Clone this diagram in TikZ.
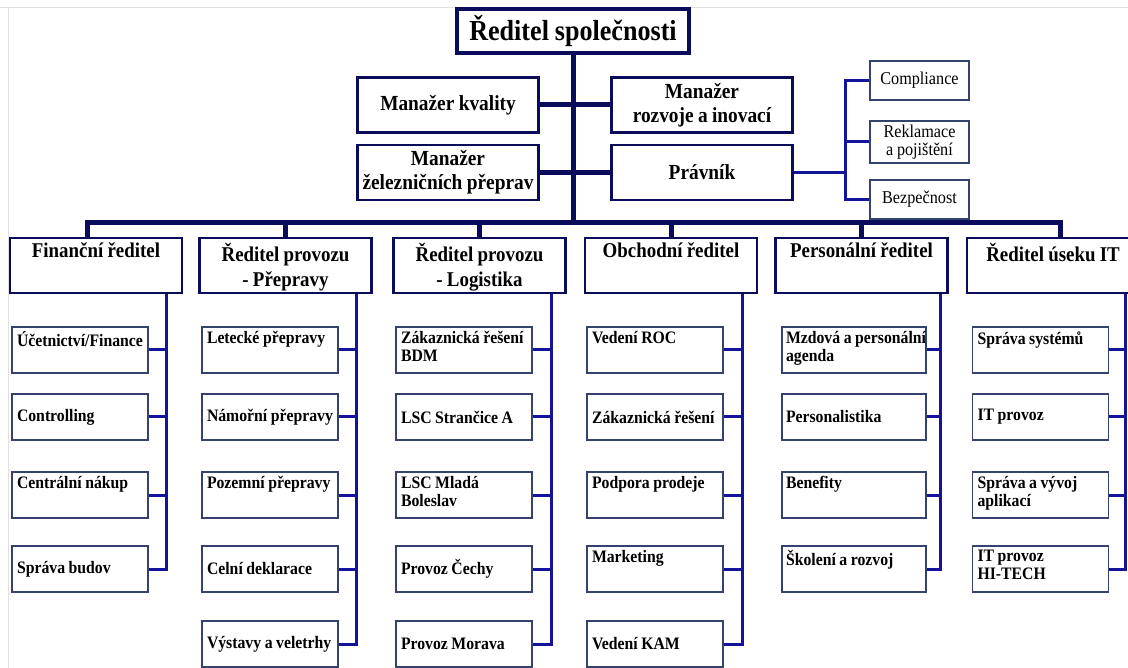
\documentclass[tikz,border=0pt]{standalone}
\usepackage{fontspec}
\setmainfont[FakeStretch=0.9,WordSpace=0.9]{Liberation Serif}
\usetikzlibrary{calc}
\definecolor{navy}{HTML}{0B0B5C}
\definecolor{linkblue}{HTML}{14149A}
\definecolor{boxline}{HTML}{34436E}
\newlength{\cw}
\setlength{\cw}{126pt}
\newcommand{\ctop}[1]{\parbox[c][37pt][t]{\cw}{\raggedright #1}}
\newcommand{\cmid}[1]{\parbox[c][37pt][c]{\cw}{\raggedright #1}}
\newcommand{\htop}[1]{\parbox[c][45pt][t]{162pt}{\centering #1}}
\tikzset{
    topbox/.style={draw=navy,line width=4pt,fill=white,minimum width=232pt,minimum height=44pt,inner sep=0pt,font=\fontsize{29}{32}\selectfont\bfseries},
    mgr/.style={draw=navy,line width=2.2pt,fill=white,minimum width=181pt,minimum height=55pt,inner sep=0pt,align=center,font=\fontsize{21.5}{24}\selectfont\bfseries},
    legal/.style={draw=boxline,line width=1.3pt,fill=white,minimum width=99pt,minimum height=39pt,inner sep=0pt,align=center,font=\fontsize{18}{18}\selectfont},
    head/.style={draw=navy,line width=2.2pt,fill=white,inner xsep=5pt,inner ysep=5pt,font=\fontsize{21}{25}\selectfont\bfseries},
    child/.style={draw=boxline,line width=1.3pt,fill=white,inner xsep=5pt,inner ysep=4.5pt,font=\fontsize{17.5}{18}\selectfont\bfseries},
    trunk/.style={draw=navy,line width=5pt},
    spine/.style={draw=linkblue,line width=3pt},
    frame/.style={draw=black!12,line width=0.8pt}
}
\begin{document}
\begin{tikzpicture}[x=1pt,y=-1pt]
\useasboundingbox (0,0) rectangle (1128,668);
\fill[white] (0,0) rectangle (1128,668);
\draw[frame] (0,7) -- (1128,7) (8,7) -- (8,668);
\node[topbox] (ceo) at (573,31) {Ředitel společnosti};
\coordinate (bus) at (573,223);
\draw[trunk] (ceo.south) -- (bus);
\node[mgr] (kval) at (448,105) {Manažer kvality};
\node[mgr] (rozv) at (702,105) {Manažer\\rozvoje a inovací};
\node[mgr] (zel) at (448,172.5) {Manažer\\železničních přeprav};
\node[mgr] (prav) at (702,172.5) {Právník};
\draw[trunk] (kval.east) -- (rozv.west);
\draw[trunk] (zel.east) -- (prav.west);
\node[legal] (comp) at (919.5,80.5) {Compliance};
\node[legal,minimum height=42pt] (rekl) at (919.5,142) {Reklamace\\a pojištění};
\node[legal] (bezp) at (919.5,199.5) {Bezpečnost};
\draw[spine] (prav.east) -- ++(52,0) coordinate (lj);
\draw[spine] (comp.west) -| (lj) |- (bezp.west);
\draw[spine] (rekl.west) -- (rekl.west -| lj);
\node[head] (fin) at (96,265.5) {\htop{Finanční ředitel}};
\node[head] (prep) at (285.5,265.5) {\htop{Ředitel provozu\\- Přepravy}};
\node[head] (logi) at (479.5,265.5) {\htop{Ředitel provozu\\- Logistika}};
\node[head] (obch) at (671,265.5) {\htop{Obchodní ředitel}};
\node[head] (pers) at (861.5,265.5) {\htop{Personální ředitel}};
\node[head] (it) at (1053,265.5) {\htop{Ředitel úseku IT}};
\draw[trunk] ([xshift=-9pt]fin.north) |- (bus) -| ([xshift=7pt]it.north);
\foreach \h in {prep,logi,obch,pers}
    \draw[trunk] (\h.north) -- (\h.north |- bus);
\node[child] (f1) at (80,350) {\ctop{Účetnictví/Finance}};
\node[child] (f2) at (80,417) {\cmid{Controlling}};
\node[child] (f3) at (80,495) {\ctop{Centrální nákup}};
\node[child] (f4) at (80,569) {\cmid{Správa budov}};
\node[child] (p1) at (270,350) {\ctop{Letecké přepravy}};
\node[child] (p2) at (270,417) {\cmid{Námořní přepravy}};
\node[child] (p3) at (270,495) {\ctop{Pozemní přepravy}};
\node[child] (p4) at (270,569) {\cmid{Celní deklarace}};
\node[child] (p5) at (270,644) {\cmid{Výstavy a veletrhy}};
\node[child] (l1) at (464,350) {\ctop{Zákaznická řešení\\BDM}};
\node[child] (l2) at (464,417) {\cmid{LSC Strančice A}};
\node[child] (l3) at (464,495) {\ctop{LSC Mladá\\Boleslav}};
\node[child] (l4) at (464,569) {\cmid{Provoz Čechy}};
\node[child] (l5) at (464,644) {\cmid{Provoz Morava}};
\node[child] (o1) at (655,350) {\ctop{Vedení ROC}};
\node[child] (o2) at (655,417) {\cmid{Zákaznická řešení}};
\node[child] (o3) at (655,495) {\ctop{Podpora prodeje}};
\node[child] (o4) at (655,569) {\ctop{Marketing}};
\node[child] (o5) at (655,644) {\cmid{Vedení KAM}};
\setlength{\cw}{136pt}
\node[child,inner xsep=4pt] (e1) at (854,350) {\ctop{\mbox{Mzdová a personální}\\agenda}};
\node[child,inner xsep=4pt] (e2) at (854,417) {\cmid{Personalistika}};
\node[child,inner xsep=4pt] (e3) at (854,495) {\ctop{Benefity}};
\node[child,inner xsep=4pt] (e4) at (854,569) {\ctop{Školení a rozvoj}};
\setlength{\cw}{126pt}
\node[child] (i1) at (1040.5,350) {\ctop{Správa systémů}};
\node[child] (i2) at (1040.5,417) {\cmid{IT provoz}};
\node[child] (i3) at (1040.5,495) {\ctop{Správa a vývoj\\aplikací}};
\node[child] (i4) at (1040.5,569) {\ctop{IT provoz\\HI-TECH}};
\draw[spine] (f4.east) -- ++(18,0) coordinate (fs) -- (fs |- fin.south);
\foreach \c in {f1,f2,f3}
    \draw[spine] (\c.east) -- (\c.east -| fs);
\draw[spine] (p5.east) -- ++(18,0) coordinate (ps) -- (ps |- prep.south);
\foreach \c in {p1,p2,p3,p4}
    \draw[spine] (\c.east) -- (\c.east -| ps);
\draw[spine] (l5.east) -- ++(19,0) coordinate (ls) -- (ls |- logi.south);
\foreach \c in {l1,l2,l3,l4}
    \draw[spine] (\c.east) -- (\c.east -| ls);
\draw[spine] (o5.east) -- ++(19,0) coordinate (os) -- (os |- obch.south);
\foreach \c in {o1,o2,o3,o4}
    \draw[spine] (\c.east) -- (\c.east -| os);
\draw[spine] (e4.east) -- ++(14,0) coordinate (es) -- (es |- pers.south);
\foreach \c in {e1,e2,e3}
    \draw[spine] (\c.east) -- (\c.east -| es);
\draw[spine] (i4.east) -- ++(16,0) coordinate (is) -- (is |- it.south);
\foreach \c in {i1,i2,i3}
    \draw[spine] (\c.east) -- (\c.east -| is);
\end{tikzpicture}
\end{document}
